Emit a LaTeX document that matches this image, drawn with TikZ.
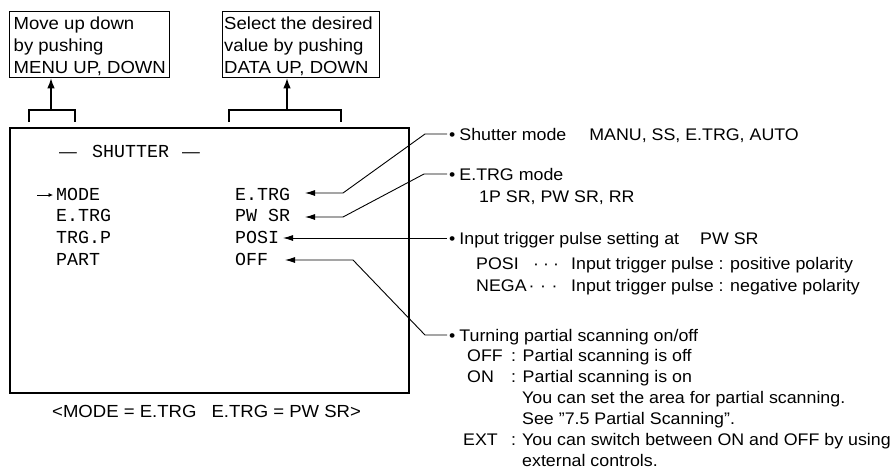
\documentclass[tikz,border=0pt]{standalone}
\usepackage{fontspec}
\setmainfont{Liberation Sans}[FakeStretch=1.06]
\newfontfamily\monof{Liberation Mono}
\usetikzlibrary{arrows.meta}
\begin{document}
\begin{tikzpicture}[x=1pt,y=-1pt,
  lbl/.style={inner sep=0pt, anchor=base west, font=\fontsize{16.8}{20}\selectfont, text height=12pt, text depth=0pt},
  big/.style={inner sep=0pt, anchor=base west, font=\fontsize{17.5}{21}\selectfont},
  mono/.style={inner sep=0pt, anchor=base west, font=\monof\fontsize{18.3}{22}\selectfont},
  frame/.style={draw, line width=1.3pt, inner sep=0pt, anchor=north west},
  conn/.style={line width=0.9pt, line join=round},
  tipped/.style={conn, -{Latex[length=10pt,width=6pt]}},
  uparrow/.style={line width=1.2pt, -{Latex[length=10pt,width=7.5pt]}},
  bracket/.style={line width=1.2pt},
]
\useasboundingbox (0,0) rectangle (894,469);

% top boxes
\node[frame, minimum width=160pt, minimum height=66pt] (box1) at (9,11) {};
\node[frame, minimum width=157pt, minimum height=66pt] (box2) at (222,11) {};
\node[big] (m1) at (13.5,29) {Move up down};
\node[big] (m2) at (13.5,51) {by pushing};
\node[big] (m3) at (13.5,73) {MENU UP, DOWN};
\node[big] (d1) at (224,29) {Select the desired};
\node[big] (d2) at (224,51) {value by pushing};
\node[big] (d3) at (224,73) {DATA UP, DOWN};

% brackets and arrows
\coordinate (b1l) at (29,122); \coordinate (b1r) at (75,122); \coordinate (b1m) at (51,110);
\coordinate (b2l) at (229,122); \coordinate (b2r) at (341,122); \coordinate (b2m) at (287,110);
\draw[bracket] (b1l) -- ++(0,-12) -| (b1r);
\draw[bracket] (b2l) -- ++(0,-12) -| (b2r);
\draw[uparrow] (b1m) -- (box1.south -| b1m);
\draw[uparrow] (b2m) -- (box2.south -| b2m);

% main screen
\node[frame, line width=1.9pt, minimum width=399pt, minimum height=265pt] (screen) at (9,127) {};
\node[lbl] (dashl) at (59,157.5) {—};
\node[mono] (title) at (92,157) {SHUTTER};
\node[lbl] (dashr) at (182,157.5) {—};

\coordinate (ar0) at (37,195); \coordinate (ar1) at (53,195);
\draw[line width=0.7pt, -{Latex[length=4.5pt,width=4pt]}] (ar0) -- (ar1);
\node[mono] (kmode) at (56,200.7) {MODE};
\node[mono] (ketrg) at (56,221.7) {E.TRG};
\node[mono] (ktrgp) at (56,243.3) {TRG.P};
\node[mono] (kpart) at (56,265) {PART};
\node[mono] (vmode) at (235,200.7) {E.TRG};
\node[mono] (vetrg) at (235,221.7) {PW SR};
\node[mono] (vtrgp) at (235,243.3) {POSI};
\node[mono] (vpart) at (235,265) {OFF};

\node[big] (cap) at (52,417) {<MODE = E.TRG\hspace{15pt}E.TRG = PW SR>};

% right explanations
\node[lbl] (n1) at (449,140) {•\hspace{4pt}Shutter mode\hspace{23pt}MANU, SS, E.TRG, AUTO};
\node[lbl] (n2) at (449,180) {•\hspace{4pt}E.TRG mode};
\node[lbl] (n3) at (479,202) {1P SR, PW SR, RR};
\node[lbl] (n4) at (449,244) {•\hspace{4pt}Input trigger pulse setting at\hspace{21pt}PW SR};
\node[lbl] (p1) at (476,269) {POSI};
\node[lbl] (p2) at (533,269) {·\hspace{4pt}·\hspace{4pt}·};
\node[lbl] (p3) at (571,269) {Input trigger pulse : positive polarity};
\node[lbl] (q1) at (476,291) {NEGA};
\node[lbl] (q2) at (528.5,291) {·\hspace{5.5pt}·\hspace{5.5pt}·};
\node[lbl] (q3) at (571,291) {Input trigger pulse : negative polarity};
\node[lbl] (r1) at (449,341) {•\hspace{4pt}Turning partial scanning on/off};
\node[lbl] (r2a) at (467,361) {OFF};
\node[lbl] (r2b) at (511,361) {: Partial scanning is off};
\node[lbl] (r3a) at (467,382) {ON};
\node[lbl] (r3b) at (511,382) {: Partial scanning is on};
\node[lbl] (r4) at (522,403) {You can set the area for partial scanning.};
\node[lbl] (r5) at (522,424) {See "7.5 Partial Scanning".};
\node[lbl] (r6a) at (463,445) {EXT};
\node[lbl] (r6b) at (511,445) {:};
\node[lbl] (r6c) at (522,445) {You can switch between ON and OFF by using};
\node[lbl] (r7) at (522,466) {external controls.};

% connectors
\coordinate (t1) at (305,193); \coordinate (k1a) at (343,193); \coordinate (k1b) at (425,134);
\coordinate (t2) at (305,217); \coordinate (k2a) at (343,217); \coordinate (k2b) at (424,174);
\coordinate (t3) at (283,238);
\coordinate (t4) at (285,260); \coordinate (k4a) at (353,260); \coordinate (k4b) at (425,335);
\draw[tipped] ([xshift=-2pt]n1.west) -- (k1b) -- (k1a) -- (t1);
\draw[tipped] ([xshift=-2pt]n2.west) -- (k2b) -- (k2a) -- (t2);
\draw[tipped] ([xshift=-2pt]n4.west) -- (t3);
\draw[tipped] ([xshift=-2pt]r1.west) -- (k4b) -- (k4a) -- (t4);
\end{tikzpicture}
\end{document}
